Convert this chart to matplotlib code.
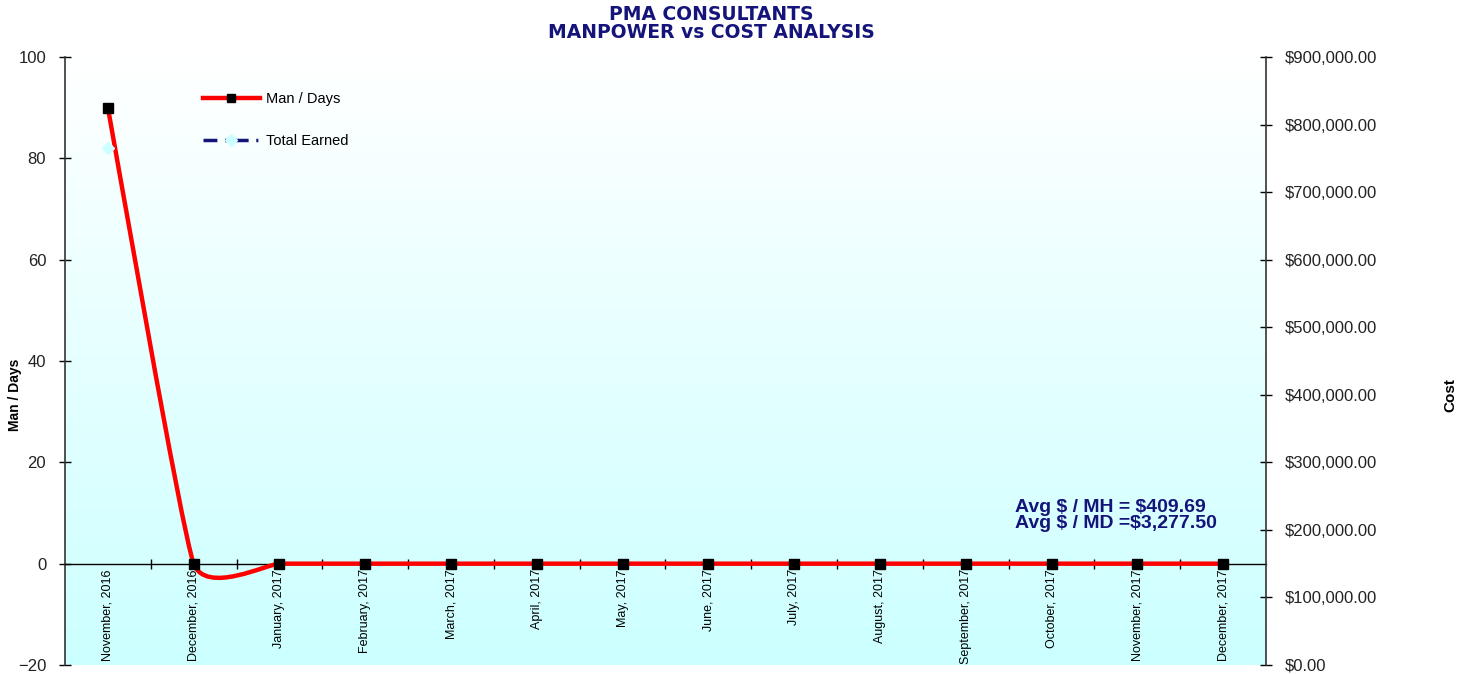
import numpy as np
import matplotlib
matplotlib.use("Agg")
import matplotlib.pyplot as plt
from matplotlib.path import Path
from matplotlib.patches import PathPatch
from matplotlib.lines import Line2D

months = ["November, 2016", "December, 2016", "January, 2017", "February, 2017",
          "March, 2017", "April, 2017", "May, 2017", "June, 2017", "July, 2017",
          "August, 2017", "September, 2017", "October, 2017", "November, 2017",
          "December, 2017"]
man_days = [90, 0, 0, 0, 0, 0, 0, 0, 0, 0, 0, 0, 0, 0]
total_earned = [765000] + [np.nan] * 13

left_ticks = [-20, 0, 20, 40, 60, 80, 100]
right_ticks = [0, 100000, 200000, 300000, 400000, 500000, 600000, 700000, 800000, 900000]
avg_mh = "Avg $ / MH = $409.69"
avg_md = "Avg $ / MD =$3,277.50"

navy = "#14147a"
plt.rcParams["font.family"] = ["Liberation Sans", "DejaVu Sans"]

fig = plt.figure(figsize=(14.72, 6.74), dpi=100)
ax = fig.add_axes([65/1472, 1-665/674, (1266-65)/1472, (665-57)/674])

# white -> light cyan background
grad = np.linspace(0, 1, 256)[:, None]
top = np.array([1.0, 1.0, 1.0])
bot = np.array([0.80, 1.0, 1.0])
img = top + (bot - top) * grad[..., None]
ax.imshow(img, extent=[0, 1, 0, 1], transform=ax.transAxes, aspect="auto", zorder=0)
ax.set_xlim(-0.5, 13.5)
ax.set_ylim(-20, 100)

# smoothed line, excel style bezier through the points
x = np.arange(len(man_days))
pts = np.column_stack([x, man_days]).astype(float)
k = 0.07
verts = [pts[0]]
codes = [Path.MOVETO]
n = len(pts)
for i in range(n - 1):
    p_prev = pts[max(i - 1, 0)]
    p_next2 = pts[min(i + 2, n - 1)]
    c1 = pts[i] + k * (pts[i + 1] - p_prev)
    c2 = pts[i + 1] - k * (p_next2 - pts[i])
    verts += [c1, c2, pts[i + 1]]
    codes += [Path.CURVE4] * 3
ax.add_patch(PathPatch(Path(verts, codes), fill=False, edgecolor="red", lw=3.2,
                       zorder=3, capstyle="round"))
ax.plot(x, man_days, "s", color="black", ms=7.5, ls="none", zorder=4)

# axes styling
for s in ["top", "right"]:
    ax.spines[s].set_visible(False)
ax.spines["bottom"].set_position(("data", 0))
ax.spines["bottom"].set_linewidth(1.0)
ax.spines["left"].set_linewidth(1.2)
ax.spines["left"].set_color("#333333")
ax.set_yticks(left_ticks)
ax.tick_params(axis="y", direction="inout", length=9, width=1.0, pad=9, labelsize=12,
               labelcolor="#222222")
ax.set_xticks(np.arange(0.5, 13.5, 1))
ax.set_xticklabels([])
ax.tick_params(axis="x", which="major", direction="inout", length=7, width=1.0)
ax.set_xticks(x, minor=True)
ax.set_xticklabels(months, minor=True, rotation=90, fontsize=9)
ax.tick_params(axis="x", which="minor", length=0, pad=4)

ax2 = ax.twinx()
ax2.set_ylim(0, 900000)
ax2.set_yticks(right_ticks)
ax2.set_yticklabels(["${:,.2f}".format(v) for v in right_ticks])
for s in ["top", "left", "bottom"]:
    ax2.spines[s].set_visible(False)
ax2.spines["right"].set_linewidth(1.2)
ax2.spines["right"].set_color("#333333")
ax2.tick_params(axis="y", direction="inout", length=9, width=1.0, pad=9, labelsize=12,
                labelcolor="#222222")
ax2.plot(x, total_earned, color=navy, ls=(0, (4, 1.6, 0.8, 1.6)), lw=2.5, marker="D", ms=6,
         mfc="#ccffff", mec="#ccffff", zorder=2)

h1 = Line2D([], [], color="red", lw=3.2, marker="s", ms=6, mfc="black", mec="black")
h2 = Line2D([], [], color=navy, lw=2.5, ls=(0, (4, 2.2, 0.6, 2.2)), marker="D", ms=6,
            mfc="#ccffff", mec="#ccffff")
ax2.legend([h1, h2], ["Man / Days", "Total Earned"], loc="upper left",
           bbox_to_anchor=((203-65)/1201, (665-92)/608), frameon=False,
           fontsize=10.5, handlelength=3.9, handletextpad=0.45, labelspacing=1.95,
           borderaxespad=0, borderpad=0)

ax.text((1015-65)/1201, (665-508)/608, avg_mh, transform=ax.transAxes, fontsize=14,
        fontweight="bold", color=navy, va="center", ha="left", zorder=6,
        parse_math=False)
ax.text((1015-65)/1201, (665-523)/608, avg_md, transform=ax.transAxes, fontsize=14,
        fontweight="bold", color=navy, va="center", ha="left", zorder=6,
        parse_math=False)

fig.text(711/1472, 1-15/674, "PMA CONSULTANTS", ha="center", va="center",
         fontsize=13.5, fontweight="heavy", color=navy, family="DejaVu Sans")
fig.text(711/1472, 1-33/674, "MANPOWER vs COST ANALYSIS", ha="center", va="center",
         fontsize=13.5, fontweight="heavy", color=navy, family="DejaVu Sans")
fig.text(15/1472, 1-395/674, "Man / Days", rotation=90, ha="center", va="center",
         fontsize=10, fontweight="bold")
fig.text(1450/1472, 1-395/674, "Cost", rotation=90, ha="center", va="center",
         fontsize=11, fontweight="bold")

fig.savefig("out.png", dpi=100)
